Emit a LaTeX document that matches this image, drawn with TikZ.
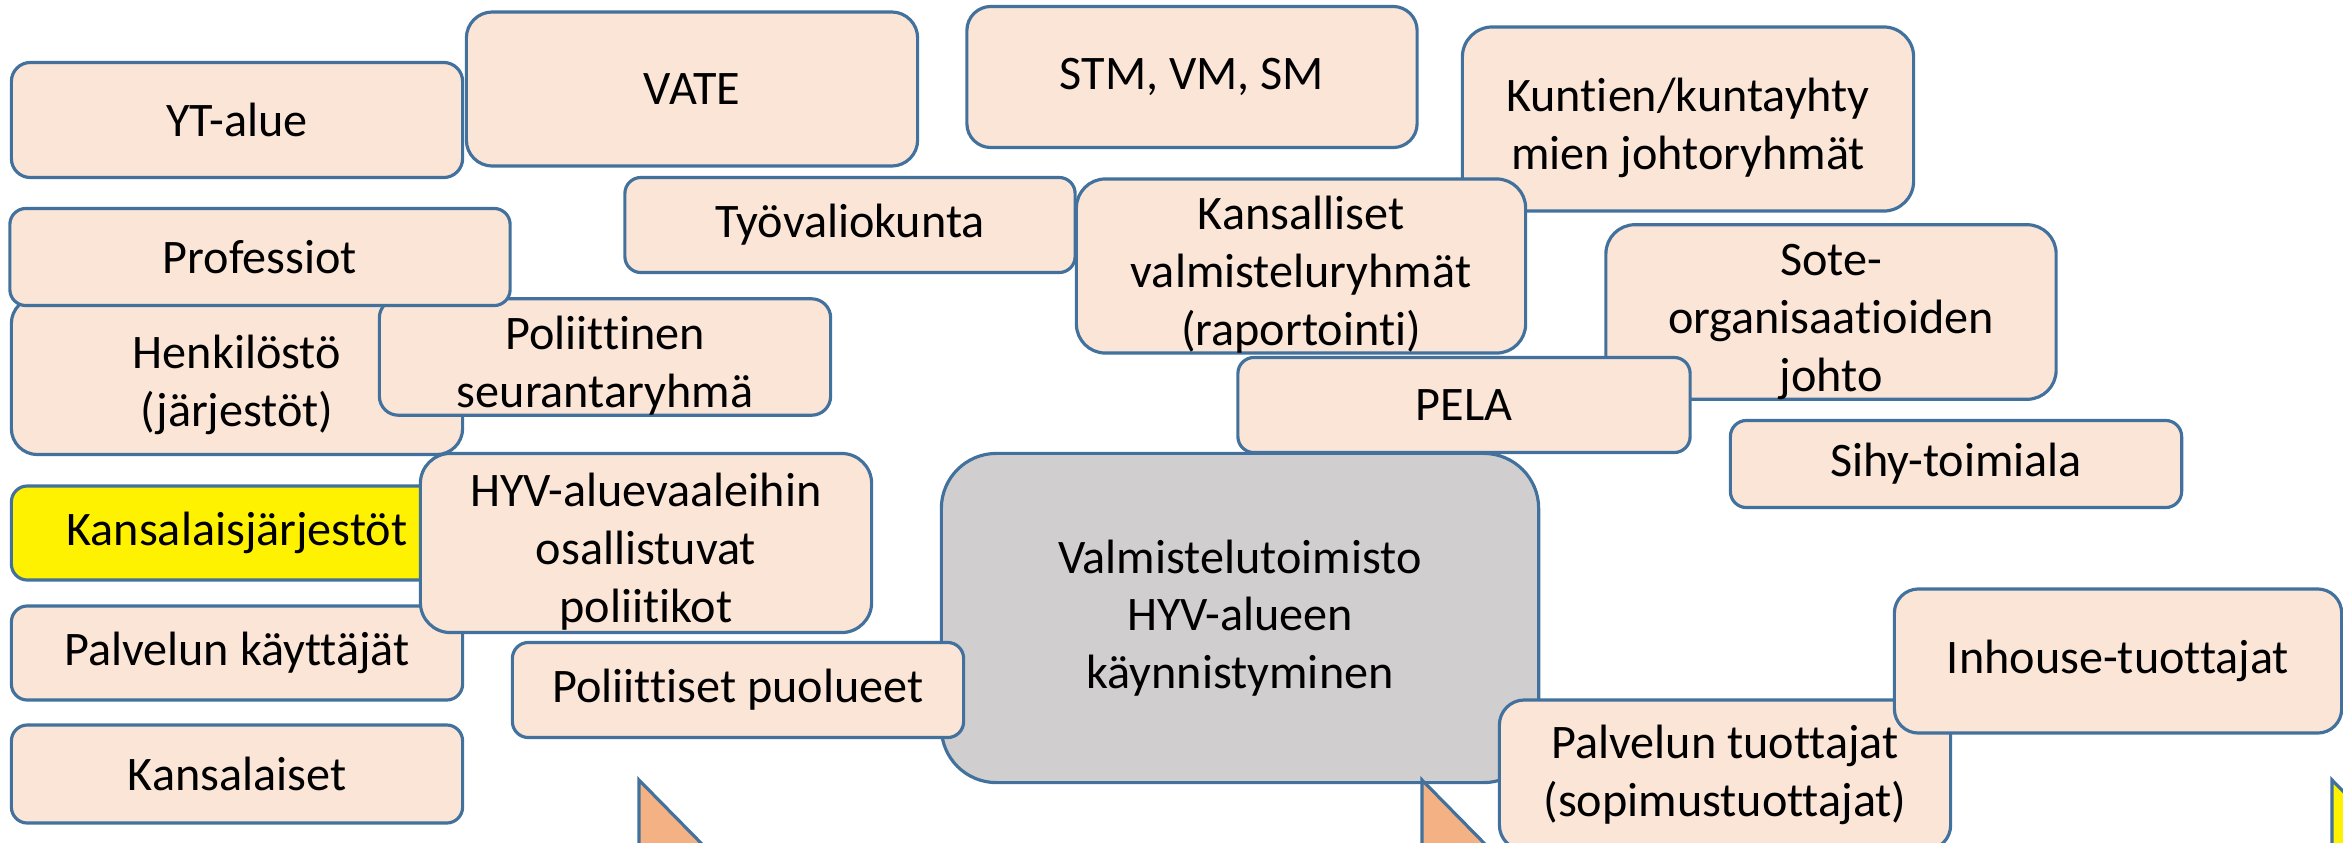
\documentclass[tikz,border=0pt]{standalone}
\usepackage{fontspec}
\setmainfont{Carlito}[Ligatures=NoCommon]
\usepackage{xcolor}
\usepackage{tikz}

\definecolor{boxline}{HTML}{41719C}
\definecolor{boxfill}{HTML}{FBE5D6}
\definecolor{officefill}{HTML}{D0CECE}
\definecolor{tripeach}{HTML}{F4B183}

\newcommand{\firstline}{\rule{0pt}{14.5pt}}

\begin{document}
\begin{tikzpicture}[x=0.01cm, y=-0.01cm]
      \tikzstyle{box} = [rectangle, draw=boxline, fill=boxfill, line width=0.9pt, rounded corners=0.16cm, inner sep=0pt, align=center, font=\fontsize{13.7}{16.4}\selectfont, minimum width=4.51cm]
      \tikzstyle{tri} = [draw=boxline, fill=tripeach, line width=0.9pt]

      \clip (0,0) rectangle (2343,842);

      \node[box, minimum height=1.15cm, rounded corners=0.19cm] (yt) at (237,120) {YT-alue};
      \node[box, minimum height=1.54cm, rounded corners=0.26cm] (vate) at (692,89) {VATE};
      \node[box, minimum width=4.5cm, minimum height=1.41cm, rounded corners=0.24cm] (stm) at (1192,77) {STM, VM, SM};
      \node[box, minimum height=1.84cm, rounded corners=0.3cm] (kunnat) at (1688,119) {\firstline Kuntien/kuntayhty\\mien johtoryhmät};
      \node[box, minimum width=4.5cm, minimum height=0.95cm] (tvk) at (850,225) {Työvaliokunta};
      \node[box, minimum width=4.49cm, minimum height=1.73cm, rounded corners=0.29cm] (kansvalm) at (1301,266) {\firstline Kansalliset\\valmisteluryhmät\\(raportointi)};
      \node[box, minimum width=4.5cm, minimum height=1.71cm, rounded corners=0.29cm] (sote) at (1831,312) {\firstline Sote-\\organisaatioiden\\johto};
      \node[box, minimum width=4.52cm, minimum height=0.95cm] (pela) at (1464,405) {PELA};
      \node[box, minimum height=0.87cm] (sihy) at (1956,464) {Sihy-toimiala};

      \node[box, minimum height=1.57cm, rounded corners=0.26cm] (henk) at (237,376) {\firstline Henkilöstö\\(järjestöt)};
      \node[box, minimum height=1.15cm, rounded corners=0.19cm] (polseur) at (605,357) {\firstline Poliittinen\\seurantaryhmä};
      \node[box, minimum width=5cm, minimum height=0.97cm] (prof) at (260,257) {Professiot};
      \node[box, fill=yellow, minimum height=0.94cm] (kjarj) at (237,533) {Kansalaisjärjestöt};
      \node[box, minimum height=0.94cm] (kayt) at (237,653) {Palvelun käyttäjät};
      \node[box, minimum height=0.98cm] (kansal) at (237,774) {Kansalaiset};
      \node[box, minimum height=1.79cm, rounded corners=0.3cm] (hyv) at (646,543) {\firstline HYV-aluevaaleihin\\osallistuvat\\poliitikot};

      \node[box, fill=officefill, minimum width=5.97cm, minimum height=3.29cm, rounded corners=0.55cm] (tsto) at (1240,618) {Valmistelutoimisto\\HYV-alueen\\käynnistyminen};
      \node[box, minimum height=0.95cm] (puol) at (738,690) {Poliittiset puolueet};

      \draw[tri] (639,780) -- (639,900) -- (757,900) -- cycle;
      \draw[tri] (1422,780) -- (1422,900) -- (1540,900) -- cycle;
      \draw[tri, fill=yellow] (2332,780) -- (2332,900) -- (2450,900) -- cycle;

      \node[box, minimum height=1.5cm, rounded corners=0.25cm] (tuott) at (1725,775) {Palvelun tuottajat\\(sopimustuottajat)};
      \node[box, minimum width=4.47cm, minimum height=1.44cm, rounded corners=0.24cm] (inhouse) at (2118,661) {Inhouse-tuottajat};
    \end{tikzpicture}
\end{document}
